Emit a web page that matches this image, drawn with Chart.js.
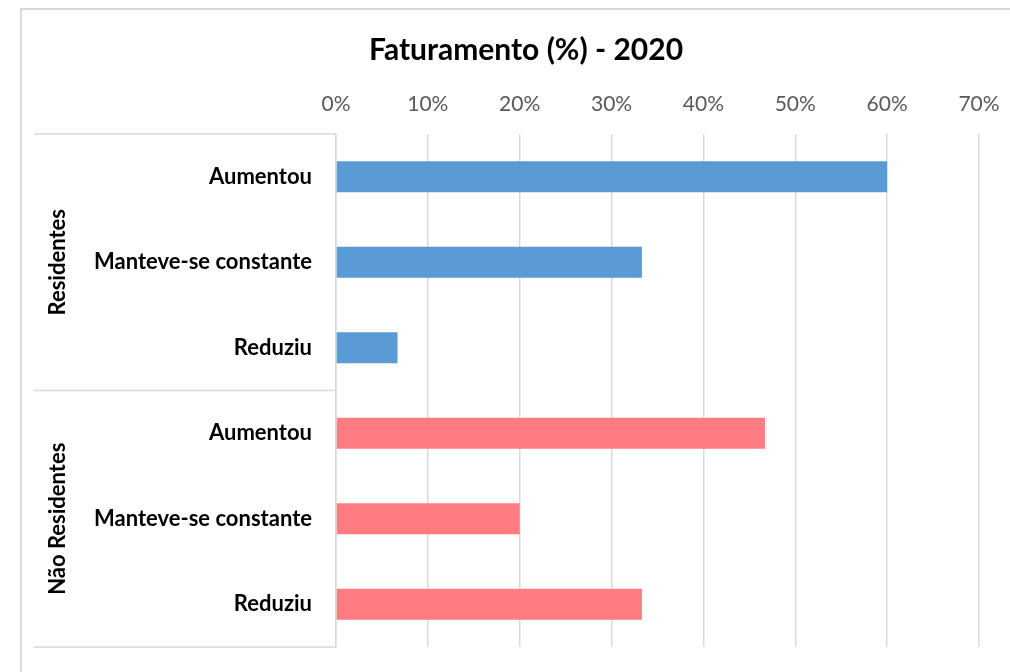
<!DOCTYPE html>
<html>
<head>
<meta charset="utf-8">
<script src="https://cdn.jsdelivr.net/npm/chart.js@4"></script>
<style>
  body { margin: 0; background: #fff; overflow: hidden; }
  #frame {
    position: absolute; left: 20px; top: 8px; width: 1100px; height: 800px;
    border: 2px solid #d9d9d9; box-sizing: border-box;
  }
  #wrap { position: absolute; left: 0; top: 0; width: 1010px; height: 672px; }
</style>
</head>
<body>
<div id="frame"></div>
<div id="wrap"><canvas id="myChart" width="1010" height="672"></canvas></div>
<script>
// data
var title = "Faturamento (%) - 2020";
var groups = ["Residentes", "Não Residentes"];
var categories = ["Aumentou", "Manteve-se constante", "Reduziu"];
var residentes = [60, 33.3, 6.7];
var naoResidentes = [46.7, 20, 33.3];
var xTicks = [0, 10, 20, 30, 40, 50, 60, 70];

var blue = "#5b9bd5";
var pink = "#ff7c80";
var fontFamily = "Lato, 'Open Sans', sans-serif";

var labels = categories.concat(categories);
var values = residentes.concat(naoResidentes);
var colors = residentes.map(() => blue).concat(naoResidentes.map(() => pink));

// title, group labels and separator lines on the left side
const groupPlugin = {
  id: "groupPlugin",
  afterDraw(chart) {
    const ctx = chart.ctx;
    const y = chart.scales.y;
    const area = chart.chartArea;
    const n = categories.length;
    const step = (area.bottom - area.top) / labels.length;
    ctx.save();
    ctx.fillStyle = "#000";
    ctx.textAlign = "center";
    ctx.textBaseline = "middle";
    ctx.font = "bold 30px " + fontFamily;
    ctx.fillText(title, 526, 50);

    ctx.strokeStyle = "#d9d9d9";
    ctx.lineWidth = 1.5;
    for (let g = 0; g <= groups.length; g++) {
      const yy = area.top + g * n * step;
      ctx.beginPath();
      ctx.moveTo(34, yy);
      ctx.lineTo(area.left, yy);
      ctx.stroke();
    }
    ctx.font = "bold 22px " + fontFamily;
    groups.forEach((g, i) => {
      const mid = (y.getPixelForValue(i * n) + y.getPixelForValue(i * n + n - 1)) / 2;
      ctx.save();
      ctx.translate(58, mid);
      ctx.rotate(-Math.PI / 2);
      ctx.fillText(g, 0, 0);
      ctx.restore();
    });
    ctx.restore();
  },
};

const ctx = document.getElementById("myChart");
new Chart(ctx, {
  type: "bar",
  data: {
    labels: labels,
    datasets: [
      {
        label: "Faturamento",
        data: values,
        backgroundColor: colors,
        borderWidth: 0,
        barPercentage: 0.36,
        categoryPercentage: 1,
      },
    ],
  },
  plugins: [groupPlugin],
  options: {
    indexAxis: "y",
    responsive: false,
    animation: false,
    layout: { padding: { top: 65, right: 31, bottom: 25, left: 0 } },
    plugins: {
      legend: { display: false },
      tooltip: { enabled: false },
      title: { display: false },
    },
    scales: {
      x: {
        position: "top",
        min: 0,
        max: 70,
        afterBuildTicks: (scale) => {
          scale.ticks = xTicks.map((v) => ({ value: v }));
        },
        afterFit: (scale) => {
          scale.height = 69;
          scale.paddingLeft = 0;
          scale.paddingRight = 0;
        },
        ticks: {
          color: "#595959",
          font: { family: fontFamily, size: 21 },
          padding: 17,
          callback: (v) => v + "%",
        },
        grid: { color: "#d9d9d9", lineWidth: 1.5, drawTicks: false },
        border: { display: false },
      },
      y: {
        afterFit: (scale) => {
          scale.width = 336;
          scale.paddingTop = 0;
          scale.paddingBottom = 0;
        },
        ticks: {
          color: "#000",
          font: { family: fontFamily, size: 22, weight: "bold" },
          padding: 24,
        },
        grid: { display: false, drawTicks: false },
        border: { display: true, color: "#d9d9d9", width: 1.5 },
      },
    },
  },
});
</script>
</body>
</html>
